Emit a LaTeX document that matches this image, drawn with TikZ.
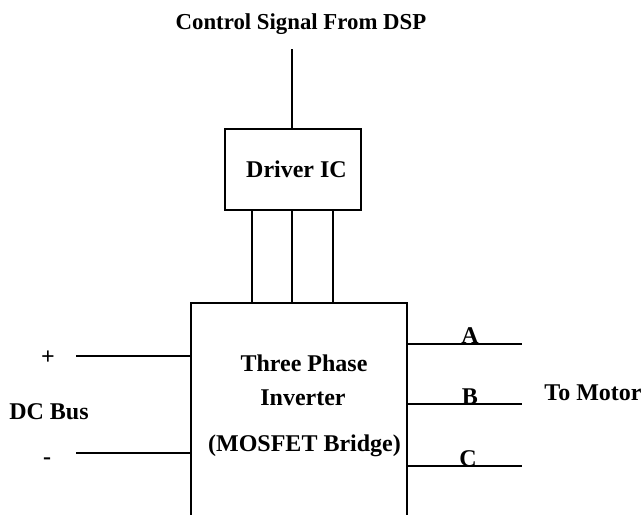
\documentclass[tikz,border=0pt]{standalone}
\usepackage{fontspec}
\setmainfont{Liberation Serif}
\begin{document}
\begin{tikzpicture}[x=0.5pt, y=-0.5pt, line width=0.65pt,
		lbl/.style={font=\bfseries\fontsize{12}{14}\selectfont, inner sep=0pt, anchor=base}]
			\useasboundingbox (0, 0) rectangle (644, 515);
			
			\node[lbl, font=\bfseries\fontsize{11.4}{14}\selectfont] (dsp) at (301, 29) {Control Signal From DSP};
			\coordinate (dspin) at (292, 49);
			
			\node[draw, minimum width=68pt, minimum height=40.5pt, inner sep=0pt] (drv) at (293, 169.5) {};
			\node[lbl] (drvtxt) at (296.5, 177) {Driver IC};
			\draw (dspin) -- (dspin |- drv.north);
			
			\coordinate (invTL) at (191, 303);
			\coordinate (invTR) at (407, 303);
			\draw (191, 515) -- (invTL) -- (invTR) -- (407, 515);
			\node[lbl] (inv1) at (304, 371) {Three Phase};
			\node[lbl] (inv2) at (303, 405) {Inverter};
			\node[lbl] (inv3) at (304.5, 451) {(MOSFET Bridge)};
			
			\foreach \gx in {252, 292, 333}
				\draw (drv.south -| \gx,0) -- (invTL -| \gx,0);
			
			\coordinate (pos) at (76, 356);
			\coordinate (neg) at (76, 453);
			\draw (pos) -- (pos -| invTL);
			\draw (neg) -- (neg -| invTL);
			\node[lbl, anchor=center] (plus) at (48, 358) {+};
			\node[lbl, anchor=center] (minus) at (47, 461) {-};
			\node[lbl] (dcbus) at (49, 419) {DC Bus};
			
			\coordinate (outA) at (522, 344);
			\coordinate (outB) at (522, 404);
			\coordinate (outC) at (522, 466);
			\draw (outA -| invTR) -- (outA);
			\draw (outB -| invTR) -- (outB);
			\draw (outC -| invTR) -- (outC);
			\node[lbl] (pa) at (470, 343) {A};
			\node[lbl] (pb) at (470, 404) {B};
			\node[lbl] (pc) at (468, 466) {C};
			\node[lbl] (motor) at (593, 400) {To Motor};
		\end{tikzpicture}
\end{document}
